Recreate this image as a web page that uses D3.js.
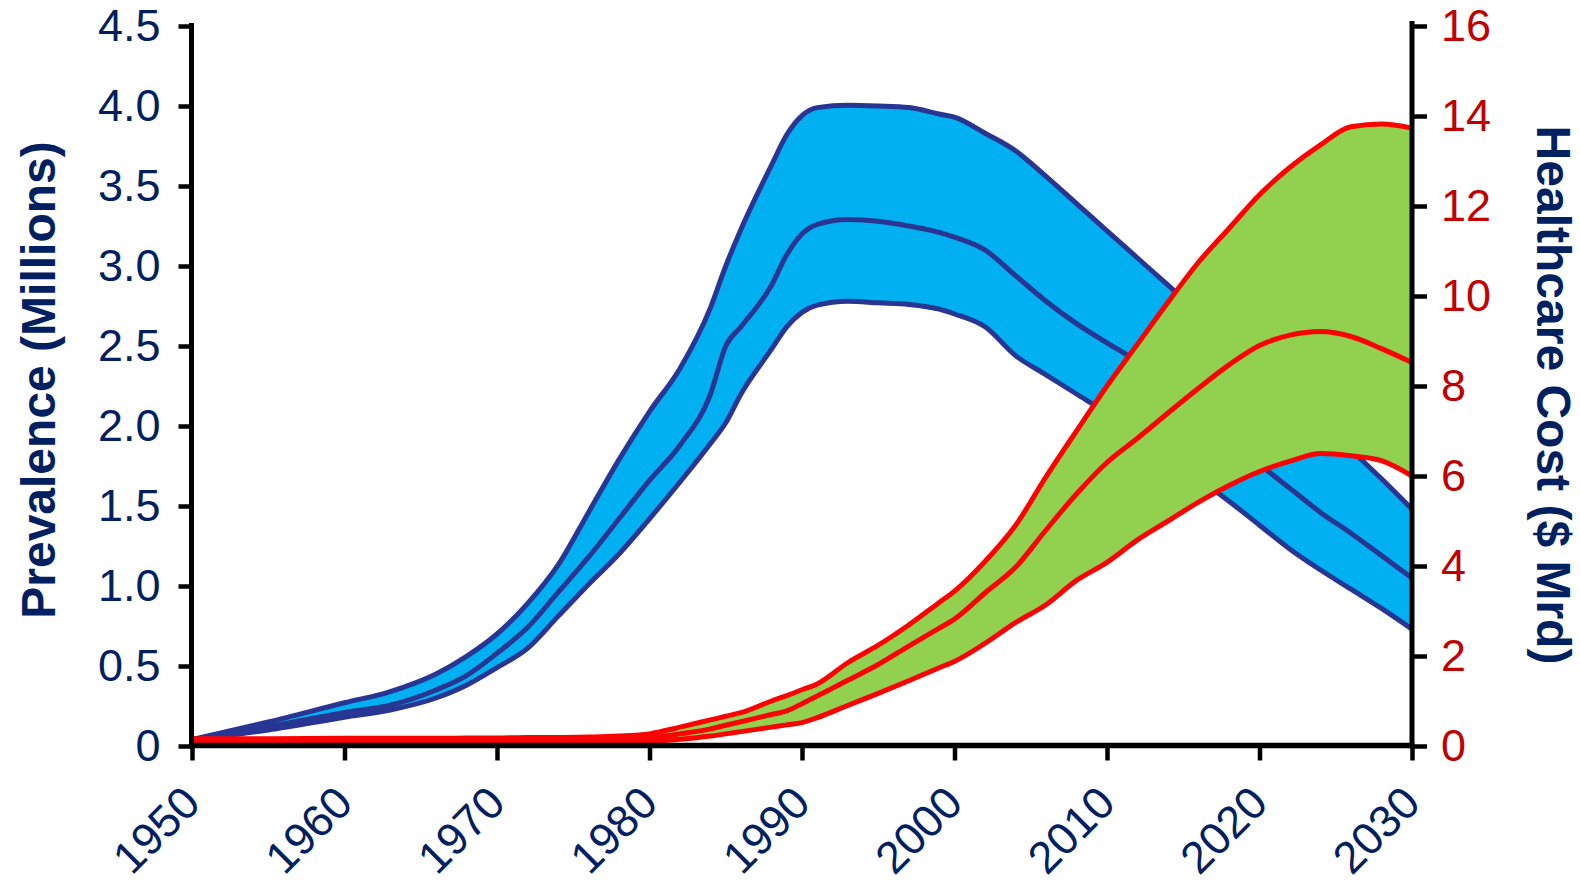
<!DOCTYPE html>
<html>
<head>
<meta charset="utf-8">
<script src="https://cdn.jsdelivr.net/npm/d3@7"></script>
<style>
  html, body { margin: 0; padding: 0; background: #ffffff; }
  svg { display: block; font-family: "Liberation Sans", Arial, sans-serif; }
</style>
</head>
<body>
<svg id="chart" width="1580" height="884"></svg>
<script>
// Years sampled along the horizontal axis
const years = [1950,1955,1960,1963,1966,1968,1970,1972,1974,1976,
               1978,1980,1982,1984,1985,1986,1988,1989,1990,1991,
               1993,1995,1997,1999,2000,2002,2004,2006,2008,2010,
               2012,2014,2016,2018,2020,2022,2024,2026,2028,2030];

// Prevalence (millions): high, central and low estimates
const prevHigh = [0.04,0.15,0.27,0.34,0.45,0.56,0.70,0.89,1.13,1.46,
                  1.79,2.09,2.36,2.74,3.00,3.23,3.63,3.82,3.94,3.99,
                  4.005,4.00,3.99,3.95,3.93,3.83,3.72,3.56,3.39,3.22,
                  3.05,2.88,2.71,2.54,2.37,2.20,2.02,1.85,1.67,1.48];
const prevMid  = [0.04,0.12,0.21,0.255,0.35,0.44,0.58,0.74,0.96,1.18,
                  1.42,1.66,1.88,2.20,2.50,2.62,2.88,3.07,3.20,3.26,
                  3.29,3.28,3.25,3.21,3.18,3.10,2.94,2.78,2.64,2.52,
                  2.40,2.24,2.08,1.92,1.76,1.61,1.46,1.33,1.19,1.05];
const prevLow  = [0.04,0.10,0.18,0.225,0.30,0.38,0.49,0.61,0.81,1.01,
                  1.20,1.42,1.65,1.89,2.02,2.20,2.48,2.62,2.71,2.755,
                  2.78,2.77,2.76,2.73,2.70,2.62,2.44,2.32,2.20,2.08,
                  1.94,1.80,1.67,1.53,1.38,1.23,1.10,0.98,0.86,0.73];

// Healthcare cost ($ Mrd): high, central and low estimates
const costHigh = [0.16,0.16,0.17,0.17,0.17,0.18,0.18,0.19,0.19,0.20,
                  0.22,0.27,0.42,0.58,0.66,0.74,1.00,1.12,1.25,1.38,
                  1.85,2.24,2.69,3.19,3.44,4.10,4.90,5.98,7.00,8.00,
                  8.93,9.86,10.75,11.50,12.25,12.86,13.36,13.76,13.82,13.73];
const costMid  = [0.13,0.13,0.13,0.13,0.14,0.14,0.14,0.14,0.14,0.15,
                  0.16,0.18,0.27,0.38,0.46,0.54,0.70,0.78,0.94,1.11,
                  1.46,1.81,2.22,2.62,2.82,3.40,3.97,4.80,5.60,6.30,
                  6.84,7.40,7.95,8.47,8.90,9.13,9.21,9.10,8.83,8.52];
const costLow  = [0.10,0.10,0.10,0.10,0.10,0.10,0.10,0.10,0.10,0.10,
                  0.10,0.11,0.15,0.22,0.27,0.32,0.42,0.47,0.52,0.63,
                  0.90,1.17,1.45,1.74,1.88,2.28,2.74,3.14,3.68,4.08,
                  4.58,5.00,5.42,5.79,6.10,6.33,6.50,6.45,6.34,6.00];

// Tick values
const xTicks = [1950,1960,1970,1980,1990,2000,2010,2020,2030];
const leftTicks = [0,0.5,1.0,1.5,2.0,2.5,3.0,3.5,4.0,4.5];
const rightTicks = [0,2,4,6,8,10,12,14,16];

const navy = "#002060";
const darkRed = "#C00000";

const svg = d3.select("#chart");

const x  = d3.scaleLinear().domain([1950, 2030]).range([192, 1412]);
const yL = d3.scaleLinear().domain([0, 4.5]).range([746, 26]);
const yR = d3.scaleLinear().domain([0, 16]).range([746, 26]);

const curve = d3.curveMonotoneX;

function band(lo, hi, y) {
  return d3.area().curve(curve)
    .x((d, i) => x(years[i]))
    .y0((d, i) => y(lo[i]))
    .y1((d, i) => y(hi[i]))(years);
}
function line(vals, y) {
  return d3.line().curve(curve)
    .x((d, i) => x(years[i]))
    .y((d, i) => y(vals[i]))(years);
}

// Prevalence band
const gPrev = svg.append("g");
gPrev.append("path")
  .attr("d", band(prevLow, prevHigh, yL))
  .attr("fill", "#00B0F0");
[prevHigh, prevMid, prevLow].forEach(v => {
  gPrev.append("path")
    .attr("d", line(v, yL))
    .attr("fill", "none")
    .attr("stroke", "#283593")
    .attr("stroke-width", 5)
    .attr("stroke-linejoin", "round");
});

// Cost band
const gCost = svg.append("g");
gCost.append("path")
  .attr("d", band(costLow, costHigh, yR))
  .attr("fill", "#92D050")
  .attr("stroke", "#FF0000")
  .attr("stroke-width", 1.5);
[costHigh, costMid, costLow].forEach(v => {
  gCost.append("path")
    .attr("d", line(v, yR))
    .attr("fill", "none")
    .attr("stroke", "#FF0000")
    .attr("stroke-width", 5)
    .attr("stroke-linejoin", "round");
});

// Axes
function styleAxis(g, color) {
  g.select(".domain").remove();
  g.selectAll(".tick line").attr("stroke", "#000").attr("stroke-width", 4.5);
  g.selectAll(".tick text")
    .attr("fill", color)
    .style("font-size", "45px")
    .style("font-family", "'Liberation Sans', Arial, sans-serif");
}

const axL = svg.append("g").attr("transform", "translate(191.5,0)")
  .call(d3.axisLeft(yL).tickValues(leftTicks).tickSize(13).tickPadding(18)
    .tickFormat(d => d === 0 ? "0" : d3.format(".1f")(d)));
styleAxis(axL, navy);

const axR = svg.append("g").attr("transform", "translate(1412,0)")
  .call(d3.axisRight(yR).tickValues(rightTicks).tickSize(15).tickPadding(14)
    .tickFormat(d3.format("d")));
styleAxis(axR, darkRed);

const axB = svg.append("g").attr("transform", "translate(0,745.5)")
  .call(d3.axisBottom(x).tickValues(xTicks).tickSize(15).tickFormat(d3.format("d")));
styleAxis(axB, navy);
axB.selectAll(".tick text")
  .attr("text-anchor", "end")
  .attr("dy", null)
  .attr("y", null)
  .attr("transform", "translate(10,60) rotate(-45)");

// Axis lines
svg.append("line").attr("x1", 191.5).attr("x2", 191.5).attr("y1", 748.5).attr("y2", 23)
  .attr("stroke", "#000").attr("stroke-width", 5);
svg.append("line").attr("x1", 189).attr("x2", 1414.5).attr("y1", 745.5).attr("y2", 745.5)
  .attr("stroke", "#000").attr("stroke-width", 5.5);
svg.append("line").attr("x1", 1412).attr("x2", 1412).attr("y1", 748.5).attr("y2", 21)
  .attr("stroke", "#000").attr("stroke-width", 5);

// Axis titles
svg.append("text")
  .attr("transform", "translate(55,380) rotate(-90)")
  .attr("text-anchor", "middle")
  .attr("fill", navy)
  .style("font-size", "48px")
  .style("font-weight", "bold")
  .text("Prevalence (Millions)");

svg.append("text")
  .attr("transform", "translate(1537,395) rotate(90)")
  .attr("text-anchor", "middle")
  .attr("fill", navy)
  .style("font-size", "48px")
  .style("font-weight", "bold")
  .text("Healthcare Cost ($ Mrd)");
</script>
</body>
</html>
